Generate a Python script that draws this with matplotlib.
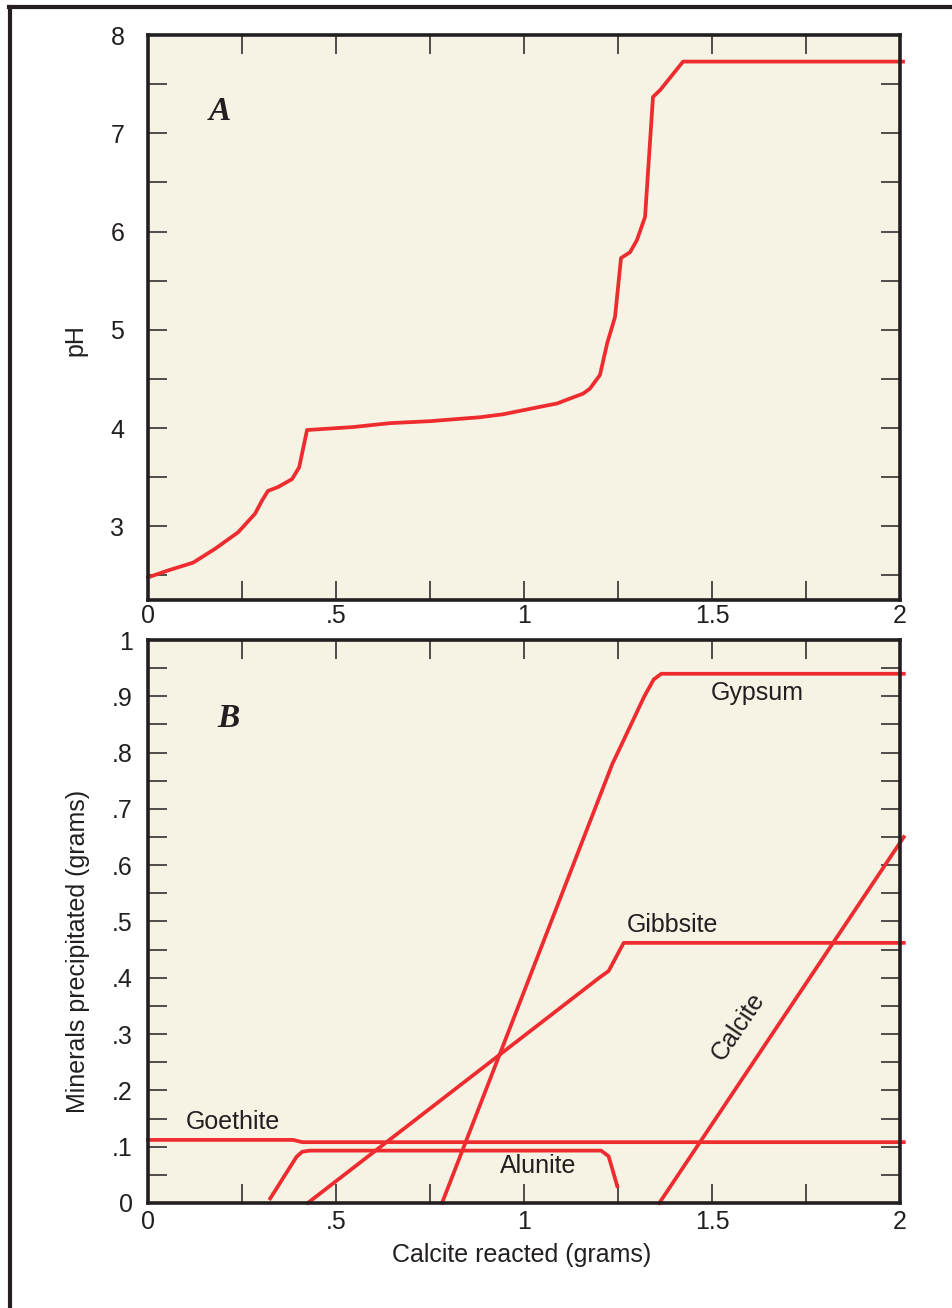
import matplotlib
matplotlib.use("Agg")
import matplotlib.pyplot as plt
from matplotlib.lines import Line2D
from matplotlib.ticker import MultipleLocator, FixedLocator

# --- DATA ---
# A: pH vs calcite reacted
ph_x = [0.0, 0.053, 0.12, 0.178, 0.24, 0.285, 0.303, 0.319, 0.346, 0.383, 0.402, 0.423,
        0.545, 0.644, 0.75, 0.883, 0.944, 1.061, 1.088, 1.122, 1.157, 1.175, 1.202,
        1.221, 1.242, 1.258, 1.282, 1.30, 1.322, 1.343, 1.362, 1.423, 2.008]
ph_y = [2.48, 2.55, 2.63, 2.77, 2.94, 3.13, 3.26, 3.36, 3.40, 3.48, 3.60, 3.98,
        4.01, 4.05, 4.07, 4.11, 4.14, 4.23, 4.25, 4.30, 4.35, 4.40, 4.54,
        4.86, 5.13, 5.73, 5.79, 5.91, 6.15, 7.37, 7.44, 7.73, 7.73]

# B: minerals precipitated
gypsum_x = [0.782, 1.235, 1.26, 1.32, 1.345, 1.365, 2.01]
gypsum_y = [0.0, 0.78, 0.815, 0.90, 0.93, 0.94, 0.94]
gibbsite_x = [0.425, 1.20, 1.225, 1.265, 2.01]
gibbsite_y = [0.0, 0.40, 0.412, 0.462, 0.462]
goethite_x = [0.0, 0.386, 0.41, 2.01]
goethite_y = [0.112, 0.112, 0.108, 0.108]
alunite_x = [0.325, 0.395, 0.41, 0.43, 1.205, 1.225, 1.248]
alunite_y = [0.008, 0.082, 0.091, 0.093, 0.093, 0.083, 0.03]
calcite_x = [1.36, 2.01]
calcite_y = [0.0, 0.65]

RED = "#EE2B2E"
BG = "#F6F3E5"
INK = "#231F20"
FS = 18

plt.rcParams["font.family"] = ["Liberation Sans", "DejaVu Sans"]

fig = plt.figure(figsize=(9.53, 13.08), dpi=100)
axA = fig.add_axes([0.1553, 0.5413, 0.7891, 0.4319])
axB = fig.add_axes([0.1553, 0.0803, 0.7891, 0.4304])

for ax in (axA, axB):
    ax.set_facecolor(BG)
    for s in ax.spines.values():
        s.set_linewidth(2.6)
        s.set_color(INK)
    ax.set_xlim(0, 2)
    ax.xaxis.set_major_locator(MultipleLocator(0.5))
    ax.xaxis.set_minor_locator(MultipleLocator(0.25))
    ax.tick_params(which="both", direction="in", length=14, width=1.1, color=INK,
                   top=True, right=True, labelsize=FS, labelcolor=INK)
    ax.set_xticks([0, 0.5, 1, 1.5, 2])
    ax.set_xticklabels(["0", ".5", "1", "1.5", "2"])

# --- A ---
axA.set_ylim(2.25, 8)
axA.yaxis.set_major_locator(MultipleLocator(1))
axA.yaxis.set_minor_locator(MultipleLocator(0.5))
axA.tick_params(axis="y", which="both", pad=17)
axA.tick_params(axis="x", which="both", pad=3)
axA.plot(ph_x, ph_y, color=RED, lw=2.7, clip_on=False)
axA.text(0.19, 7.22, "A", fontsize=24, fontweight="bold", fontstyle="italic",
         family="Liberation Serif", ha="center", va="center", color=INK)
axA.set_ylabel("pH", fontsize=FS, color=INK)
axA.yaxis.set_label_coords(-0.080, 0.46)

# --- B ---
axB.set_ylim(0, 1)
yt = [0, 0.1, 0.2, 0.3, 0.4, 0.5, 0.6, 0.7, 0.8, 0.9, 1.0]
axB.yaxis.set_major_locator(FixedLocator(yt))
axB.set_yticklabels(["0", ".1", ".2", ".3", ".4", ".5", ".6", ".7", ".8", ".9", "1"])
axB.yaxis.set_minor_locator(MultipleLocator(0.05))
axB.tick_params(axis="y", which="both", pad=11)
axB.tick_params(axis="x", which="both", pad=5)

for xs, ys in [(gypsum_x, gypsum_y), (gibbsite_x, gibbsite_y), (goethite_x, goethite_y),
               (alunite_x, alunite_y), (calcite_x, calcite_y)]:
    axB.plot(xs, ys, color=RED, lw=2.7, clip_on=False)

lab = dict(fontsize=FS, color=INK, ha="center", va="center")
axB.text(1.62, 0.906, "Gypsum", **lab)
axB.text(1.394, 0.494, "Gibbsite", **lab)
axB.text(0.227, 0.144, "Goethite", **lab)
axB.text(1.037, 0.066, "Alunite", **lab)
axB.text(1.569, 0.313, "Calcite", rotation=56, **lab)
axB.text(0.213, 0.861, "B", fontsize=24, fontweight="bold", fontstyle="italic",
         family="Liberation Serif", ha="center", va="center", color=INK)

axB.set_xlabel("Calcite reacted (grams)", fontsize=FS, color=INK)
axB.xaxis.set_label_coords(0.497, -0.071)
axB.set_ylabel("Minerals precipitated (grams)", fontsize=FS, color=INK)
axB.yaxis.set_label_coords(-0.077, 0.446)

# outer frame (left and top edges)
fig.add_artist(Line2D([0.011, 0.011], [0.0, 0.9946], transform=fig.transFigure,
                      color=INK, lw=3))
fig.add_artist(Line2D([0.0095, 1.0], [0.9946, 0.9946], transform=fig.transFigure,
                      color=INK, lw=3))

fig.savefig("out.png", dpi=100)
